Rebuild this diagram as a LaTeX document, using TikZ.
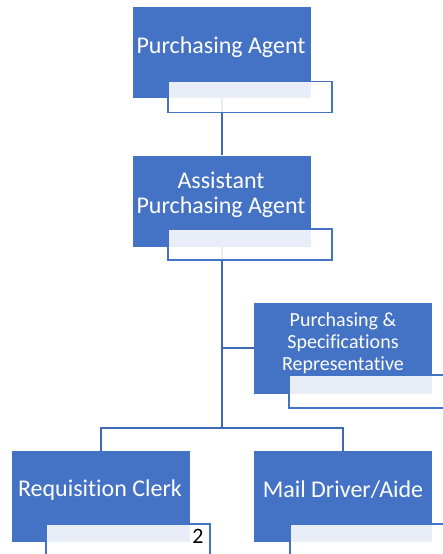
\documentclass[tikz,border=0pt]{standalone}
\usepackage{fontspec}
\setmainfont{Carlito}[Ligatures=NoCommon]
\definecolor{obl}{HTML}{4472C4}
\definecolor{lnk}{HTML}{3F69B5}
\begin{document}
\begin{tikzpicture}[x=1pt,y=-1pt,
  bluebox/.style={fill=obl, draw=none, minimum width=178pt, minimum height=91pt, inner sep=0pt},
  subbox/.style={fill=white, fill opacity=0.88, draw=obl, draw opacity=1, line width=1.6pt, minimum width=164pt, minimum height=31pt, inner sep=0pt, anchor=north west},
  lbl/.style={text=white, font=\fontsize{24}{25.5}\selectfont, align=center, inner sep=0pt},
  slbl/.style={text=white, font=\fontsize{20}{22}\selectfont, align=center, inner sep=0pt},
  conn/.style={draw=lnk, line width=2pt}]
\useasboundingbox (0,0) rectangle (443,554);
\clip (0,0) rectangle (443,554);
% boxes (positions)
\coordinate (pac) at (222,52.5);
\coordinate (apac) at (222,201);
\coordinate (psrc) at (343,348);
\coordinate (rcc) at (100.5,496.5);
\coordinate (mdc) at (343,496.5);
% connectors first
\node[bluebox, fill=none] (pa) at (pac) {};
\node[bluebox, fill=none] (apa) at (apac) {};
\node[bluebox, fill=none] (psr) at (psrc) {};
\node[bluebox, fill=none] (rc) at (rcc) {};
\node[bluebox, fill=none] (md) at (mdc) {};
\coordinate (bus) at (apa.south |- 0,428);
\draw[conn] (pa.south) -- (apa.north);
\draw[conn] (apa.south) -- (bus);
\draw[conn] (apa.south |- psr.west) -- (psr.west);
\draw[conn] (rc.north) |- (bus) -| (md.north);
% blue boxes
\node[bluebox] (pab) at (pac) {};
\node[bluebox] (apab) at (apac) {};
\node[bluebox] (psrb) at (psrc) {};
\node[bluebox] (rcb) at (rcc) {};
\node[bluebox] (mdb) at (mdc) {};
% sub boxes
\node[subbox] (pas) at (167,80.5) {};
\node[subbox] (apas) at (167,228) {};
\node[subbox, minimum height=33pt] (psrs) at (288,374) {};
\node[subbox] (rcs) at (45,523) {};
\node[subbox] (mds) at (289,523) {};
% labels
\node[lbl] (pat) at (221,47) {Purchasing Agent};
\node[lbl] (apat) at (221,195) {Assistant\\Purchasing Agent};
\node[slbl] (psrt) at (343,343) {Purchasing \&\\Specifications\\Representative};
\node[lbl] (rct) at (100,490) {Requisition Clerk};
\node[lbl] (mdt) at (343,490) {Mail Driver/Aide};
\node[text=black, font=\fontsize{22}{25}\selectfont, inner sep=0pt] (two) at (198,536.5) {2};
\end{tikzpicture}
\end{document}
